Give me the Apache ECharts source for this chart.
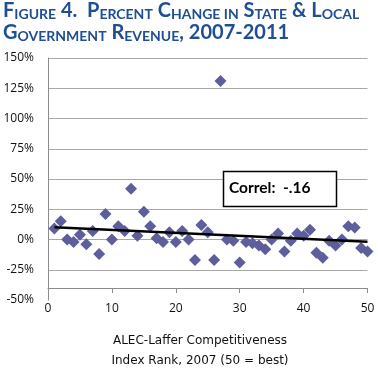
<!DOCTYPE html>
<html><head><meta charset="utf-8">
<script src="https://cdn.jsdelivr.net/npm/echarts@6/dist/echarts.min.js"></script>
<style>html,body{margin:0;padding:0;background:#fff}#c{width:378px;height:379px}</style>
</head><body><div id="c"></div>
<script>
// ALEC-Laffer index rank (x) and % change in revenue (y)
const ranks = [1,2,3,4,5,6,7,8,9,10,11,12,13,14,15,16,17,18,19,20,21,22,23,24,25,26,27,28,29,30,31,32,33,34,35,36,37,38,39,40,41,42,43,44,45,46,47,48,49,50];
const pctChange = [9,15,0,-2,4,-4,7,-12,21,0,11,7,42,3,23,11,1,-2,6,-2,7,0,-17,12,6,-17,131,0,-1,-19,-2,-3,-5,-8,0,5,-10,-1,5,3,8,-11,-15,-1,-5,0,11,10,-7,-10];
const trendX = [1, 50];
const trendY = [10.2, -1.8];
const yTicks = [-50, -25, 0, 25, 50, 75, 100, 125, 150];
const xTicks = [0, 10, 20, 30, 40, 50];
const titleLine1 = '{B|F}{S|IGURE}{B| 4.  P}{S|ERCENT}{B| C}{S|HANGE IN}{B| S}{S|TATE}{B| & L}{S|OCAL}';
const titleLine2 = '{B|G}{S|OVERNMENT}{B| R}{S|EVENUE}{B|, 2007-2011}';
const xName1 = 'ALEC-Laffer Competitiveness';
const xName2 = 'Index Rank, 2007 (50 = best)';
const correlLabel = 'Correl:  -.16';

const blue = '#1f4e92';
const rich = {
  B: {fontFamily: 'Lato', fontWeight: 'bold', fontSize: 20, color: blue, verticalAlign: 'bottom', lineHeight: 21},
  S: {fontFamily: 'Lato', fontWeight: 'bold', fontSize: 14, color: blue, verticalAlign: 'bottom', lineHeight: 21}
};

const chart = echarts.init(document.getElementById('c'));
chart.setOption({
  animation: false,
  backgroundColor: '#fff',
  title: [
    {text: titleLine1, left: 3, top: 0, padding: 0, textStyle: {rich: rich}},
    {text: titleLine2, left: 3, top: 22, padding: 0, textStyle: {rich: rich}}
  ],
  grid: {left: 48, right: 10.5, top: 58, bottom: 79, containLabel: false},
  xAxis: {
    type: 'value', min: xTicks[0], max: xTicks[xTicks.length - 1], interval: 10,
    offset: -12,
    axisLine: {show: true, onZero: false, lineStyle: {color: '#8c8c8c', width: 1}},
    axisTick: {show: true, length: 5, lineStyle: {color: '#8c8c8c'}},
    axisLabel: {margin: 15, fontFamily: 'Open Sans', fontSize: 12, color: '#111'},
    splitLine: {show: false}
  },
  yAxis: {
    type: 'value', min: yTicks[0], max: yTicks[yTicks.length - 1], interval: 25,
    axisLine: {show: true, lineStyle: {color: '#8c8c8c', width: 1}},
    axisTick: {show: false},
    axisLabel: {margin: 14, fontFamily: 'Open Sans', fontSize: 12, color: '#111', formatter: '{value}%'},
    splitLine: {show: true, showMinLine: false, lineStyle: {color: '#a8a8a8', width: 1}}
  },
  series: [
    {
      type: 'scatter', symbol: 'diamond', symbolSize: 12,
      itemStyle: {color: '#5d5e9b', opacity: 1},
      data: ranks.map((r, i) => [r, pctChange[i]]), z: 2
    },
    {
      type: 'line', symbol: 'none', z: 3,
      lineStyle: {color: '#000', width: 2.5},
      data: trendX.map((x, i) => [x, trendY[i]])
    }
  ],
  graphic: [
    {type: 'text', x: 200, y: 341, z: 10, style: {text: xName1, font: '12px "DejaVu Sans"', fill: '#111', textAlign: 'center', textVerticalAlign: 'middle'}},
    {type: 'text', x: 200, y: 361, z: 10, style: {text: xName2, font: '12px "DejaVu Sans"', fill: '#111', textAlign: 'center', textVerticalAlign: 'middle'}},
    {type: 'rect', z: 10, shape: {x: 223.5, y: 171.5, width: 113, height: 35}, style: {fill: '#fff', stroke: '#000', lineWidth: 1.5}},
    {type: 'text', z: 11, x: 229, y: 188, style: {text: correlLabel, font: 'bold 15.5px Lato', fill: '#000', textVerticalAlign: 'middle'}}
  ]
});
</script></body></html>
